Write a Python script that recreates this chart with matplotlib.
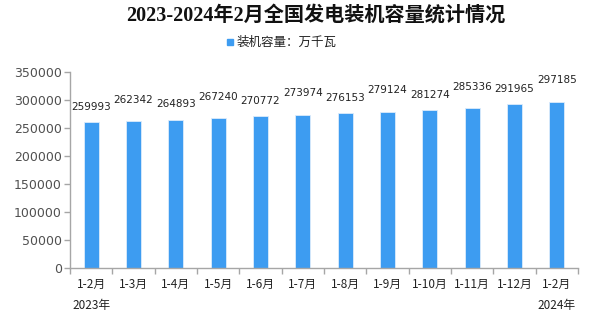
import matplotlib
matplotlib.use('Agg')
import matplotlib.pyplot as plt
from matplotlib.patches import Rectangle

plt.rcParams['font.family'] = ['DejaVu Sans', 'Noto Sans CJK SC']

# 数据: 全国发电装机容量 (万千瓦)
categories = ['1-2月', '1-3月', '1-4月', '1-5月', '1-6月', '1-7月',
              '1-8月', '1-9月', '1-10月', '1-11月', '1-12月', '1-2月']
capacity = [259993, 262342, 264893, 267240, 270772, 273974,
            276153, 279124, 281274, 285336, 291965, 297185]
years = ['2023年', '2024年']
y_ticks = [0, 50000, 100000, 150000, 200000, 250000, 300000, 350000]

bar_color = '#3D9CF1'
axis_color = '#A6A6A6'
cjk = ['Noto Sans CJK SC', 'DejaVu Sans']

fig = plt.figure(figsize=(6.06, 3.22), dpi=100)
ax = fig.add_axes([70 / 606, 54 / 322, 508 / 606, 196 / 322])

x = list(range(len(categories)))
ax.bar(x, capacity, width=0.36, color=bar_color, edgecolor='#DCEBFB', linewidth=0.6)

# 数据标签 (上下错开, 类似原图)
for i, v in enumerate(capacity):
    dy = 11 if i % 2 == 0 else 15.5
    ax.annotate(str(v), (i, v), xytext=(0, dy), textcoords='offset points',
                ha='center', va='center', fontsize=7.5, color='#222222')

ax.set_xlim(-0.5, len(categories) - 0.5)
ax.set_ylim(0, 350000)
ax.set_yticks(y_ticks)
ax.set_yticklabels([str(t) for t in y_ticks], fontsize=9, color='#505050')

# 类别标签放在两条刻度之间
ax.set_xticks([i - 0.5 for i in range(len(categories) + 1)])
ax.set_xticklabels([])
ax.tick_params(axis='x', direction='out', length=4, color=axis_color, width=1)
ax.tick_params(axis='y', direction='out', length=4, color=axis_color, width=1, pad=2)
for i, c in enumerate(categories):
    ax.text(i, -0.05, c, transform=ax.get_xaxis_transform(), ha='center', va='top',
            fontsize=8.5, family=cjk, color='#222222')
ax.text(0, -0.16, years[0], transform=ax.get_xaxis_transform(), ha='center', va='top',
        fontsize=8.5, family=cjk, color='#222222')
ax.text(len(categories) - 1, -0.16, years[1], transform=ax.get_xaxis_transform(),
        ha='center', va='top', fontsize=8.5, family=cjk, color='#222222')

for s in ['top', 'right']:
    ax.spines[s].set_visible(False)
for s in ['left', 'bottom']:
    ax.spines[s].set_color(axis_color)
    ax.spines[s].set_linewidth(1)

fig.text(316 / 606, 1 - 16 / 322, '2023-2024年2月全国发电装机容量统计情况',
         ha='center', va='center', fontsize=14.5, fontweight='bold',
         family=['Liberation Serif', 'Noto Sans CJK SC'], color='#111111')

# 图例
fig.patches.append(Rectangle((227 / 606, 1 - 45 / 322), 6 / 606, 6 / 322,
                             transform=fig.transFigure, color=bar_color))
fig.text(237 / 606, 1 - 42 / 322, '装机容量：万千瓦', ha='left', va='center',
         fontsize=9, family=cjk, color='#222222')

fig.savefig('out.png', dpi=100)
